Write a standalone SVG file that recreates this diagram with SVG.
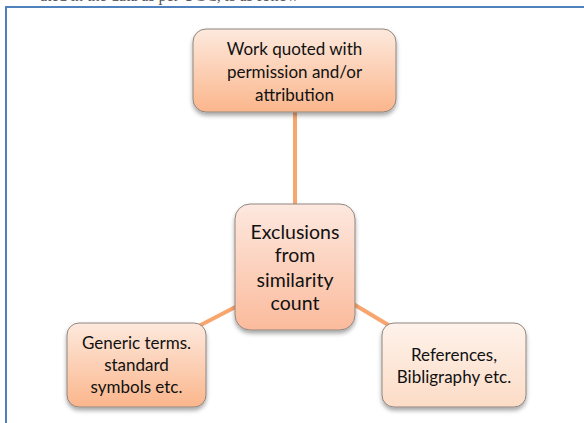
<svg xmlns="http://www.w3.org/2000/svg" width="584" height="423" viewBox="0 0 584 423">
<defs>
<linearGradient id="gOrange" x1="0" y1="0" x2="0" y2="1">
<stop offset="0" stop-color="#fde9dd"/>
<stop offset="1" stop-color="#fbb68c"/>
</linearGradient>
<linearGradient id="gCenter" x1="0" y1="0" x2="0" y2="1">
<stop offset="0" stop-color="#fde8df"/>
<stop offset="1" stop-color="#fbbb9c"/>
</linearGradient>
<linearGradient id="gLight" x1="0" y1="0" x2="0" y2="1">
<stop offset="0" stop-color="#fef2ea"/>
<stop offset="1" stop-color="#fcdcc6"/>
</linearGradient>
<filter id="sh" x="-20%" y="-20%" width="140%" height="150%">
<feDropShadow dx="0" dy="3" stdDeviation="2" flood-color="#000" flood-opacity="0.35"/>
</filter>
</defs>
<style>
.box{stroke:#8f8680;stroke-width:1;filter:url(#sh)}
.t{font-family:Lato,"Open Sans",sans-serif;fill:#111;text-anchor:middle}
.conn{stroke:#f8a56e;stroke-width:4;fill:none}
</style>
<rect width="584" height="423" fill="#fff"/>
<text x="40" y="0.5" font-family="'Liberation Serif',serif" font-size="16" fill="#555">ated in the data as per UGC, is as follow</text>
<rect x="6" y="7" width="600" height="430" fill="#fff" stroke="#4f81bd" stroke-width="2"/>
<g id="connectors">
<line class="conn" x1="295" y1="110" x2="295" y2="206"/>
<line class="conn" x1="195" y1="328" x2="245" y2="302"/>
<line class="conn" x1="345" y1="299" x2="395" y2="329"/>
</g>
<g id="node-top">
<rect class="box" x="193" y="29" width="203" height="83" rx="13" fill="url(#gOrange)"/>
<text class="t" font-size="17"><tspan x="294.5" y="55">Work quoted with</tspan><tspan x="294.5" y="78">permission and/or</tspan><tspan x="294.5" y="101">attribution</tspan></text>
</g>
<g id="node-center">
<rect class="box" x="235" y="204" width="120" height="126" rx="15" fill="url(#gCenter)"/>
<text class="t" font-size="19.5"><tspan x="295" y="239">Exclusions</tspan><tspan x="295" y="262">from</tspan><tspan x="295" y="287">similarity</tspan><tspan x="295" y="310">count</tspan></text>
</g>
<g id="node-left">
<rect class="box" x="67" y="323" width="139" height="84" rx="12" fill="url(#gOrange)"/>
<text class="t" font-size="17"><tspan x="136.5" y="349">Generic terms.</tspan><tspan x="136.5" y="371">standard</tspan><tspan x="136.5" y="393">symbols etc.</tspan></text>
</g>
<g id="node-right">
<rect class="box" x="382" y="323" width="144" height="84" rx="12" fill="url(#gLight)"/>
<text class="t" font-size="17"><tspan x="454" y="361">References,</tspan><tspan x="454" y="383">Bibligraphy etc.</tspan></text>
</g>
</svg>
